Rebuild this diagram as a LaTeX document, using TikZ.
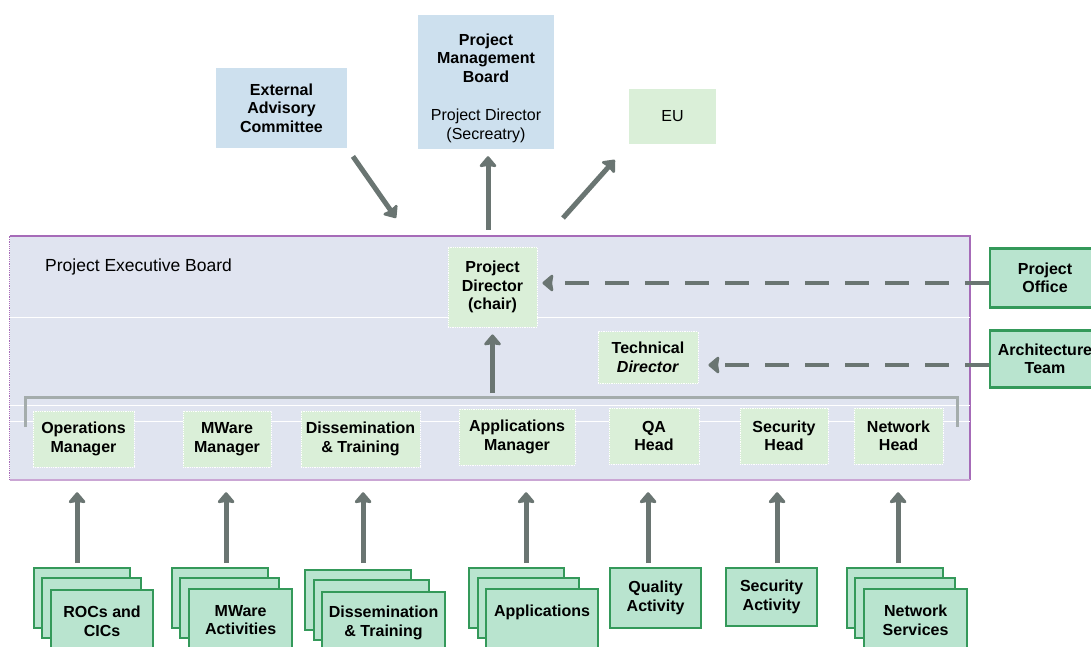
\documentclass[tikz,border=0pt]{standalone}
\usepackage{fontspec}
\setmainfont{Liberation Sans}
\usetikzlibrary{positioning, arrows.meta}
\definecolor{skyblue}{HTML}{CDE0EE}
\definecolor{palegreen}{HTML}{DAEFD8}
\definecolor{mint}{HTML}{B9E4CF}
\definecolor{leafgreen}{HTML}{34995A}
\definecolor{boardfill}{HTML}{E0E4F0}
\definecolor{boardedge}{HTML}{A66BB8}
\definecolor{arrowgrey}{HTML}{6A7572}
\definecolor{bracketgrey}{HTML}{A4ACAC}
\tikzset{every node/.style={align=center, inner sep=0pt, font=\bfseries\fontsize{16}{18.5}\selectfont},
  plain/.style={font=\fontsize{16}{18.5}\selectfont},
  topbox/.style={fill=skyblue, minimum width=131, minimum height=80},
  managerbox/.style={fill=palegreen, draw=white, densely dotted, line width=0.8pt, minimum height=56},
  stackbox/.style={fill=mint, draw=leafgreen, line width=2.2pt, anchor=north west, minimum height=60},
  sidebox/.style={fill=mint, draw=leafgreen, line width=2.2pt, minimum width=110},
  flow/.style={draw=arrowgrey, line width=5pt, -{Stealth[length=12pt, width=20pt, inset=1.5pt, round]}},
  link/.style={flow, line width=4pt, dash pattern=on 24pt off 16pt},
  bracket/.style={draw=bracketgrey, line width=3pt}}

\begin{document}
\begin{tikzpicture}[x=1pt, y=-1pt]
\useasboundingbox (0,0) rectangle (1091,646);
\node[topbox] (advisory) at (281.5,108) {External\\Advisory\\Committee};
\node[topbox, minimum width=136, minimum height=134, label={[yshift=-6pt]center:Project\\Management\\Board\\[20pt]{\mdseries Project Director}\\{\mdseries (Secreatry)}}] (management) at (486,82) {};
\node[topbox, plain, fill=palegreen, minimum width=87, minimum height=55] (eu) at (672.5,116.5) {EU};
\coordinate (advisory-in) at (396,218);
\coordinate (eu-out) at (563,218);

\node[fill=boardfill, minimum width=960, minimum height=244] (board) at (490,358) {};
\draw[boardedge, line width=1.5pt] (board.south east) -- (board.north east) -- (board.north west);
\draw[boardedge!60, line width=1.5pt] (board.south west) -- (board.south east);
\draw[boardedge, densely dotted, line width=1.2pt] (board.south west) -- (board.north west);
\draw[white, line width=0.8pt] (10,317) -- (970,317) (10,405) -- (970,405) (10,421) -- (970,421);
\node[plain, font=\fontsize{17.5}{20}\selectfont, anchor=west] (board-title) at (45,267) {Project Executive Board};

\node[managerbox, minimum width=89, minimum height=80] (director) at (492.5,287) {Project\\Director\\(chair)};
\node[managerbox, minimum width=100, minimum height=52] (technical) at (648,357.5) {Technical\\\textit{Director}};
\node[managerbox, minimum width=101] (operations) at (83.5,439) {Operations\\Manager};
\node[managerbox, minimum width=88] (mware) at (227,439) {MWare\\Manager};
\node[managerbox, minimum width=119] (dissemination) at (360.5,439) {Dissemination\\\& Training};
\node[managerbox, minimum width=116] (applications) at (517,437) {Applications\\Manager};
\node[managerbox, minimum width=90] (qa) at (654,436) {QA\\Head};
\node[managerbox, minimum width=88] (security) at (784,436) {Security\\Head};
\node[managerbox, minimum width=89] (network) at (898.5,436) {Network\\Head};
\draw[bracket] (25,427) -- (25,397) coordinate (bracket-left) -- (957,397) -- (957,427);

\node[sidebox, minimum height=59] (office) at (1045,278) {Project\\Office};
\node[sidebox, minimum height=57] (architecture) at (1045,359) {Architecture\\Team};

\node[stackbox, minimum width=96] (rocs-back) at (33,567) {};
\node[stackbox, minimum width=99] (rocs-mid) at ([shift={(8,10)}]rocs-back.north west) {};
\node[stackbox, minimum width=102, minimum height=62] (rocs) at ([shift={(9,12)}]rocs-mid.north west) {ROCs and\\CICs};
\node[stackbox, minimum width=96] (mware-back) at (171,567) {};
\node[stackbox, minimum width=99] (mware-mid) at ([shift={(8,10)}]mware-back.north west) {};
\node[stackbox, minimum width=103, minimum height=62] (mware-act) at ([shift={(9,11)}]mware-mid.north west) {MWare\\Activities};
\node[stackbox, minimum width=106] (training-back) at (304,569) {};
\node[stackbox, minimum width=115] (training-mid) at ([shift={(9,10)}]training-back.north west) {};
\node[stackbox, minimum width=123, minimum height=62] (training) at ([shift={(8,12)}]training-mid.north west) {Dissemination\\\& Training};
\node[stackbox, minimum width=95] (apps-back) at (468,567) {};
\node[stackbox, minimum width=101] (apps-mid) at ([shift={(9,10)}]apps-back.north west) {};
\node[stackbox, minimum width=112, minimum height=62] (apps) at ([shift={(8,11)}]apps-mid.north west) {Applications\\~};
\node[stackbox, minimum width=91] (quality) at (609,567) {Quality\\Activity};
\node[stackbox, minimum width=91, minimum height=58] (security-act) at (725,567) {Security\\Activity};
\node[stackbox, minimum width=96] (services-back) at (846,567) {};
\node[stackbox, minimum width=100] (services-mid) at ([shift={(8,10)}]services-back.north west) {};
\node[stackbox, minimum width=103, minimum height=62] (services) at ([shift={(9,11)}]services-mid.north west) {Network\\Services};

\draw[flow, shorten <=10pt] (advisory.south east) -- (advisory-in);
\draw[flow, shorten <=6pt, shorten >=7pt] ([xshift=2pt]management.south |- board.north) -- ([xshift=2pt]management.south);
\draw[flow, shorten >=21pt] (eu-out) -- (eu.south west);
\draw[flow, shorten <=4pt, shorten >=7pt] (director.south |- bracket-left) -- (director.south);
\draw[link, shorten >=5pt] ([yshift=-5pt]office.west) -- ([yshift=-5pt]office.west -| director.east);
\draw[link, shorten >=10pt] ([yshift=-6pt]architecture.west) -- ([yshift=-6pt]architecture.west -| technical.east);
\draw[flow, shorten <=4pt, shorten >=12pt] ([xshift=-5pt]rocs-back.north) -- ([xshift=-5pt]rocs-back.north |- board.south);
\draw[flow, shorten <=4pt, shorten >=12pt] ([xshift=6pt]mware-back.north) -- ([xshift=6pt]mware-back.north |- board.south);
\draw[flow, shorten <=6pt, shorten >=12pt] ([xshift=5pt]training-back.north) -- ([xshift=5pt]training-back.north |- board.south);
\draw[flow, shorten <=4pt, shorten >=12pt] ([xshift=9.5pt]apps-back.north) -- ([xshift=9.5pt]apps-back.north |- board.south);
\draw[flow, shorten <=4pt, shorten >=12pt] ([xshift=-7.5pt]quality.north) -- ([xshift=-7.5pt]quality.north |- board.south);
\draw[flow, shorten <=4pt, shorten >=12pt] ([xshift=5.5pt]security-act.north) -- ([xshift=5.5pt]security-act.north |- board.south);
\draw[flow, shorten <=4pt, shorten >=12pt] ([xshift=3pt]services-back.north) -- ([xshift=3pt]services-back.north |- board.south);
\end{tikzpicture}
\end{document}
